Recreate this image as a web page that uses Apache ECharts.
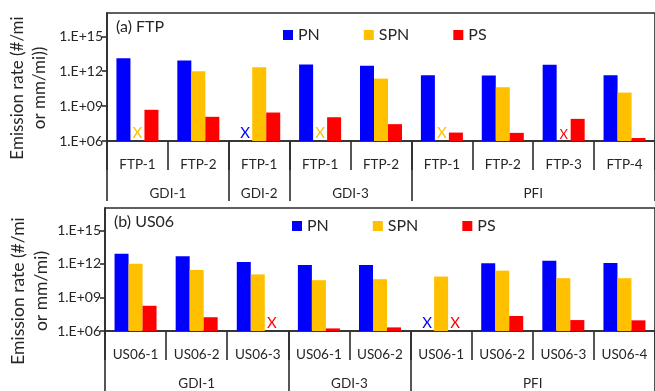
<!DOCTYPE html>
<html>
<head>
<meta charset="utf-8">
<script src="https://cdn.jsdelivr.net/npm/echarts@6/dist/echarts.min.js"></script>
<style>
  html, body { margin: 0; padding: 0; background: #fff; }
  #chart { width: 655px; height: 391px; }
</style>
</head>
<body>
<div id="chart"></div>
<script>
// Particle emission rates per vehicle and test run (log scale).
const seriesNames = ['PN', 'SPN', 'PS'];
const seriesColors = ['#0000FF', '#FFC000', '#FF0000'];

// (a) FTP cycle
const ftpRuns = ['FTP-1', 'FTP-2', 'FTP-1', 'FTP-1', 'FTP-2', 'FTP-1', 'FTP-2', 'FTP-3', 'FTP-4'];
const ftpGroups = ['GDI-1', 'GDI-1', 'GDI-2', 'GDI-3', 'GDI-3', 'PFI', 'PFI', 'PFI', 'PFI'];
const ftpPN = [1.3e13, 8.4e12, null, 3.8e12, 2.9e12, 4.5e11, 4.3e11, 3.5e12, 4.5e11];
const ftpSPN = [null, 1.0e12, 2.2e12, null, 2.3e11, null, 4.2e10, null, 1.45e10];
const ftpPS = [4.8e8, 1.2e8, 2.8e8, 1.1e8, 2.8e7, 5.3e6, 5.0e6, 8.0e7, 1.8e6];

// (b) US06 cycle
const us06Runs = ['US06-1', 'US06-2', 'US06-3', 'US06-1', 'US06-2', 'US06-1', 'US06-2', 'US06-3', 'US06-4'];
const us06Groups = ['GDI-1', 'GDI-1', 'GDI-1', 'GDI-3', 'GDI-3', 'PFI', 'PFI', 'PFI', 'PFI'];
const us06PN = [8.2e12, 4.8e12, 1.5e12, 7.8e11, 7.8e11, null, 1.15e12, 1.9e12, 1.2e12];
const us06SPN = [1.05e12, 2.9e11, 1.15e11, 3.5e10, 4.3e10, 7.4e10, 2.5e11, 5.3e10, 5.3e10];
const us06PS = [1.8e8, 1.7e7, null, 1.7e6, 2.1e6, null, 2.2e7, 9.5e6, 9.0e6];

// Y axis
const yMin = 1e6;
const yMax = 1e17;
const yTickValues = [1e6, 1e9, 1e12, 1e15];

// "X" marks for runs that were not measured; colour overrides by series index / run index
const ftpMarkColors = { 1: { 7: '#FF0000' } };
const us06MarkColors = {};

const FONT = 'Lato, "Liberation Sans", sans-serif';
const INK = '#262626';
const AXIS = '#2b2b2b';

function groupSpans(groups) {
  const spans = [];
  groups.forEach((g, i) => {
    const last = spans[spans.length - 1];
    if (last && last.name === g) last.end = i + 1;
    else spans.push({ name: g, start: i, end: i + 1 });
  });
  return spans;
}

function buildPanel(idx, runs, groups, values, markColors, rect) {
  const spans = groupSpans(groups);
  const bounds = [0].concat(spans.map(s => s.end));
  const centers = spans.map(s => (s.start + s.end) / 2);
  const catAxis = {
    type: 'category', gridIndex: idx,
    data: runs.map((r, i) => i + ':' + r),
    axisLine: { show: true, lineStyle: { color: AXIS, width: 1.6 } },
    axisTick: { show: true, interval: 0, length: 29, lineStyle: { color: AXIS, width: 1.6 } },
    axisLabel: { interval: 0, margin: 17, fontFamily: FONT, fontSize: 13.5, color: INK,
      formatter: (v, i) => runs[i] }
  };
  const groupAxis = {
    type: 'value', gridIndex: idx, position: 'bottom', min: 0, max: runs.length,
    axisLine: { show: false },
    splitLine: { show: false },
    axisTick: { show: true, customValues: bounds, length: 60, lineStyle: { color: AXIS, width: 1.6 } },
    axisLabel: { customValues: centers, margin: 46, fontFamily: FONT, fontSize: 13.5, color: INK,
      formatter: v => { const k = centers.indexOf(v); return k >= 0 ? spans[k].name : ''; } }
  };
  const yAxis = {
    type: 'log', logBase: 10, gridIndex: idx, min: yMin, max: yMax,
    axisLine: { show: true, lineStyle: { color: AXIS, width: 1.6 } },
    axisTick: { show: true, customValues: yTickValues, length: 5, lineStyle: { color: AXIS, width: 1.6 } },
    splitLine: { show: false },
    axisLabel: { customValues: yTickValues, margin: 4, fontFamily: FONT, fontSize: 14, color: INK,
      formatter: v => '1.E+' + String(Math.round(Math.log10(v))).padStart(2, '0') }
  };
  const series = values.map((vals, s) => ({
    type: 'bar', name: seriesNames[s], xAxisIndex: idx * 2, yAxisIndex: idx,
    barWidth: 14, barGap: '0%', silent: true,
    itemStyle: { color: seriesColors[s] },
    data: vals.map((v, i) => {
      if (v !== null) return v;
      const c = (markColors[s] && markColors[s][i]) || seriesColors[s];
      return { value: yMin, label: { show: true, position: 'top', distance: 0, formatter: 'X',
        color: c, fontFamily: FONT, fontSize: (c !== seriesColors[s]) ? 13 : 15 } };
    })
  }));
  return { grid: Object.assign({ show: true, borderColor: AXIS, borderWidth: 1.6, backgroundColor: 'transparent' }, rect),
           xAxes: [catAxis, groupAxis], yAxis, series };
}

const panels = [
  buildPanel(0, ftpRuns, ftpGroups, [ftpPN, ftpSPN, ftpPS], ftpMarkColors,
    { left: 107, top: 13, width: 555, height: 128 }),
  buildPanel(1, us06Runs, us06Groups, [us06PN, us06SPN, us06PS], us06MarkColors,
    { left: 105, top: 208, width: 558, height: 130 })
];

const legendBase = {
  data: seriesNames, icon: 'rect', itemWidth: 10, itemHeight: 10, itemGap: 44, selectedMode: false,
  textStyle: { fontFamily: FONT, fontSize: 16, color: INK }
};

function yTitle(x, y, text, size) {
  return { type: 'text', x, y, rotation: Math.PI / 2, silent: true,
    style: { text, fontFamily: FONT, fontSize: size, lineHeight: size + 5, fill: INK,
      align: 'center', verticalAlign: 'middle' } };
}

const option = {
  animation: false,
  backgroundColor: '#fff',
  grid: panels.map(p => p.grid),
  xAxis: panels.flatMap(p => p.xAxes),
  yAxis: panels.map(p => p.yAxis),
  series: panels.flatMap(p => p.series),
  legend: [
    Object.assign({ left: 278, top: 22 }, legendBase),
    Object.assign({ left: 287, top: 213 }, legendBase)
  ],
  graphic: [
    { type: 'text', x: 116, y: 27, silent: true,
      style: { text: '(a) FTP', fontFamily: FONT, fontSize: 16, fill: INK, verticalAlign: 'middle' } },
    { type: 'text', x: 114, y: 222, silent: true,
      style: { text: '(b) US06', fontFamily: FONT, fontSize: 16, fill: INK, verticalAlign: 'middle' } },
    yTitle(29, 88, 'Emission rate (#/mi\nor mm/mi))', 17),
    yTitle(30, 291, 'Emission rate (#/mi\nor mm/mi)', 17.5)
  ]
};

const chart = echarts.init(document.getElementById('chart'), null, { renderer: 'canvas' });
chart.setOption(option);
</script>
</body>
</html>
